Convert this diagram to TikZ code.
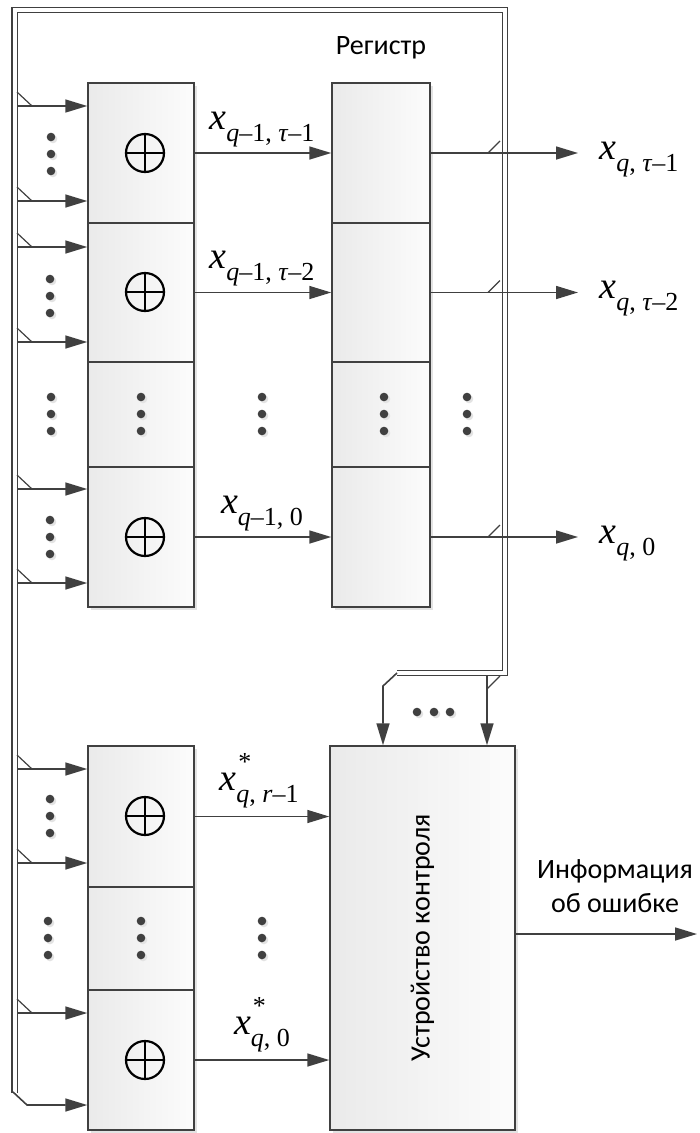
\documentclass[tikz,border=0pt]{standalone}
\usepackage{fontspec}
\setmainfont{Liberation Serif}
\newfontfamily\calib{Carlito}
\usetikzlibrary{arrows.meta,shadows,calc}
\definecolor{ln}{RGB}{64,64,64}
\definecolor{boxl}{RGB}{234,234,234}
\definecolor{boxr}{RGB}{252,252,252}
\newcommand{\xlab}[1]{{\fontsize{38}{38}\selectfont\itshape x}\raisebox{-12pt}{\fontsize{26}{26}\selectfont #1}}
\newcommand{\xslab}[1]{{\fontsize{38}{38}\selectfont\itshape x}\raisebox{-12pt}{\fontsize{26}{26}\selectfont\rlap{\hspace{2pt}\raisebox{32pt}{*}}#1}}
\newcommand{\threedots}[2]{%
  \foreach \dy in {-17,0,17}{\fill[gray!22] (#1+2,#2+\dy+2) circle (4.3pt); \fill[ln] (#1,#2+\dy) circle (4.3pt);}}
\tikzset{
  box/.style={draw=ln, line width=1.5pt, left color=boxl, right color=boxr, inner sep=0pt,
    drop shadow={shadow xshift=3pt, shadow yshift=-3pt, fill=gray!22, opacity=1}},
  arr/.style={draw=ln, line width=1.6pt, -{Triangle[length=22pt,width=13pt]}},
  wire/.style={draw=ln, line width=1.6pt},
  bus/.style={draw=ln, line width=1.3pt, double=white, double distance=4pt, line join=miter},
  xorsym/.style={circle, draw=black, line width=2.2pt, minimum size=38pt, inner sep=0pt,
    path picture={\draw[black, line width=2.2pt] (path picture bounding box.north) -- (path picture bounding box.south)
      (path picture bounding box.west) -- (path picture bounding box.east);}},
  cyr/.style={font=\calib\fontsize{28}{30}\selectfont},
}
\begin{document}
\begin{tikzpicture}[x=1pt,y=-1pt]
\useasboundingbox (0,0) rectangle (700,1133);
% boxes: xor column
\node[box, minimum width=106pt, minimum height=140pt] (x1) at (141,153) {};
\node[box, minimum width=106pt, minimum height=139pt] (x2) at (141,292.5) {};
\node[box, minimum width=106pt, minimum height=105pt] (x3) at (141,414.5) {};
\node[box, minimum width=106pt, minimum height=140pt] (x4) at (141,537) {};
% register column
\node[box, minimum width=98pt, minimum height=140pt] (r1) at (381,153) {};
\node[box, minimum width=98pt, minimum height=139pt] (r2) at (381,292.5) {};
\node[box, minimum width=98pt, minimum height=105pt] (r3) at (381,414.5) {};
\node[box, minimum width=98pt, minimum height=140pt] (r4) at (381,537) {};
% bottom group
\node[box, minimum width=106pt, minimum height=141pt] (y1) at (141,816.5) {};
\node[box, minimum width=106pt, minimum height=103pt] (y2) at (141,938.5) {};
\node[box, minimum width=106pt, minimum height=140pt] (y3) at (141,1060) {};
\node[box, minimum width=185pt, minimum height=384pt] (ctrl) at (422.5,938) {};
\node[cyr, rotate=90] (ctrltext) at (ctrl.center) {Устройство контроля};
% xor symbols
\node[xorsym] (s1) at (145,153) {};
\node[xorsym] (s2) at (145,292) {};
\node[xorsym] (s4) at (145,537) {};
\node[xorsym] (s5) at (145,816) {};
\node[xorsym] (s7) at (145,1060) {};
% title
\node[cyr] (reg) at (381,48) {Регистр};
% bus
\draw[bus] (14.5,1093) -- (14.5,10) -- (505,10) -- (505,673) -- (397,673);
\coordinate (bb) at (27,1105);
\draw[arr] (13,1092) -- (bb) -- (bb -| y3.west);
% inputs
\foreach \y [count=\i] in {106,201,247,342,489,583,769,863,1013}{
  \coordinate (in\i) at (17,\y);
  \draw[arr] (in\i) -- (in\i -| x1.west);
  \draw[wire, line width=1.2pt] ([yshift=14pt]in\i) -- ([xshift=15pt]in\i);
}
% xor -> register
\draw[arr] (x1.east) -- (r1.west);
\draw[arr] (x2.east) -- (r2.west);
\draw[arr] (x4.east) -- (r4.west);
\draw[arr] (y1.east) -- (y1.east -| ctrl.west);
\draw[arr] (y3.east) -- (y3.east -| ctrl.west);
% register outputs
\coordinate (o1) at (578,153);
\coordinate (o2) at (578,292.5);
\coordinate (o4) at (578,537);
\foreach \r/\o in {r1/o1,r2/o2,r4/o4}{
  \draw[arr] (\r.east) -- (\o);
  \coordinate (sl) at (\r.east -| 488,0);
  \draw[wire, line width=1.2pt] (sl) -- ++(12,-12);
}
% to control device
\coordinate (c1) at (383,686);
\draw[arr] (397,673) -- (c1) -- (c1 |- ctrl.north);
\coordinate (c2) at (487,676);
\draw[arr] (c2) -- (c2 |- ctrl.north);
\draw[wire, line width=1.2pt] (487,689) -- (500,676);
% error output
\coordinate (e1) at (ctrl.east |- 0,934);
\coordinate (e2) at (697,934);
\draw[arr] (e1) -- (e2);
\node[cyr, anchor=base] (info1) at (615,878) {Информация};
\node[cyr, anchor=base] (info2) at (615,912) {об ошибке};
% labels
\node[anchor=base] (l1) at (262,129) {\xlab{\textit{q}–1, \textit{τ}–1}};
\node[anchor=base] (l2) at (262,268) {\xlab{\textit{q}–1, \textit{τ}–2}};
\node[anchor=base] (l4) at (262,513) {\xlab{\textit{q}–1, 0}};
\node[anchor=base] (l5) at (259,790) {\xslab{\textit{q}, \textit{r}–1}};
\node[anchor=base] (l7) at (262,1034) {\xslab{\textit{q}, 0}};
\node[anchor=base west] (p1) at (596,159) {\xlab{\textit{q}, \textit{τ}–1}};
\node[anchor=base west] (p2) at (596,298) {\xlab{\textit{q}, \textit{τ}–2}};
\node[anchor=base west] (p4) at (596,543) {\xlab{\textit{q}, 0}};
% dots
\threedots{51}{154}
\threedots{50}{296}
\threedots{51}{414}
\threedots{50}{537}
\threedots{50}{816}
\threedots{48}{938}
\threedots{141}{414}
\threedots{141}{938}
\threedots{262}{414}
\threedots{262}{938}
\threedots{384}{414}
\threedots{467}{414}
\foreach \dx in {417,434,450}{\fill[gray!22] (\dx+2,714) circle (4.3pt); \fill[ln] (\dx,712) circle (4.3pt);}
\end{tikzpicture}
\end{document}
